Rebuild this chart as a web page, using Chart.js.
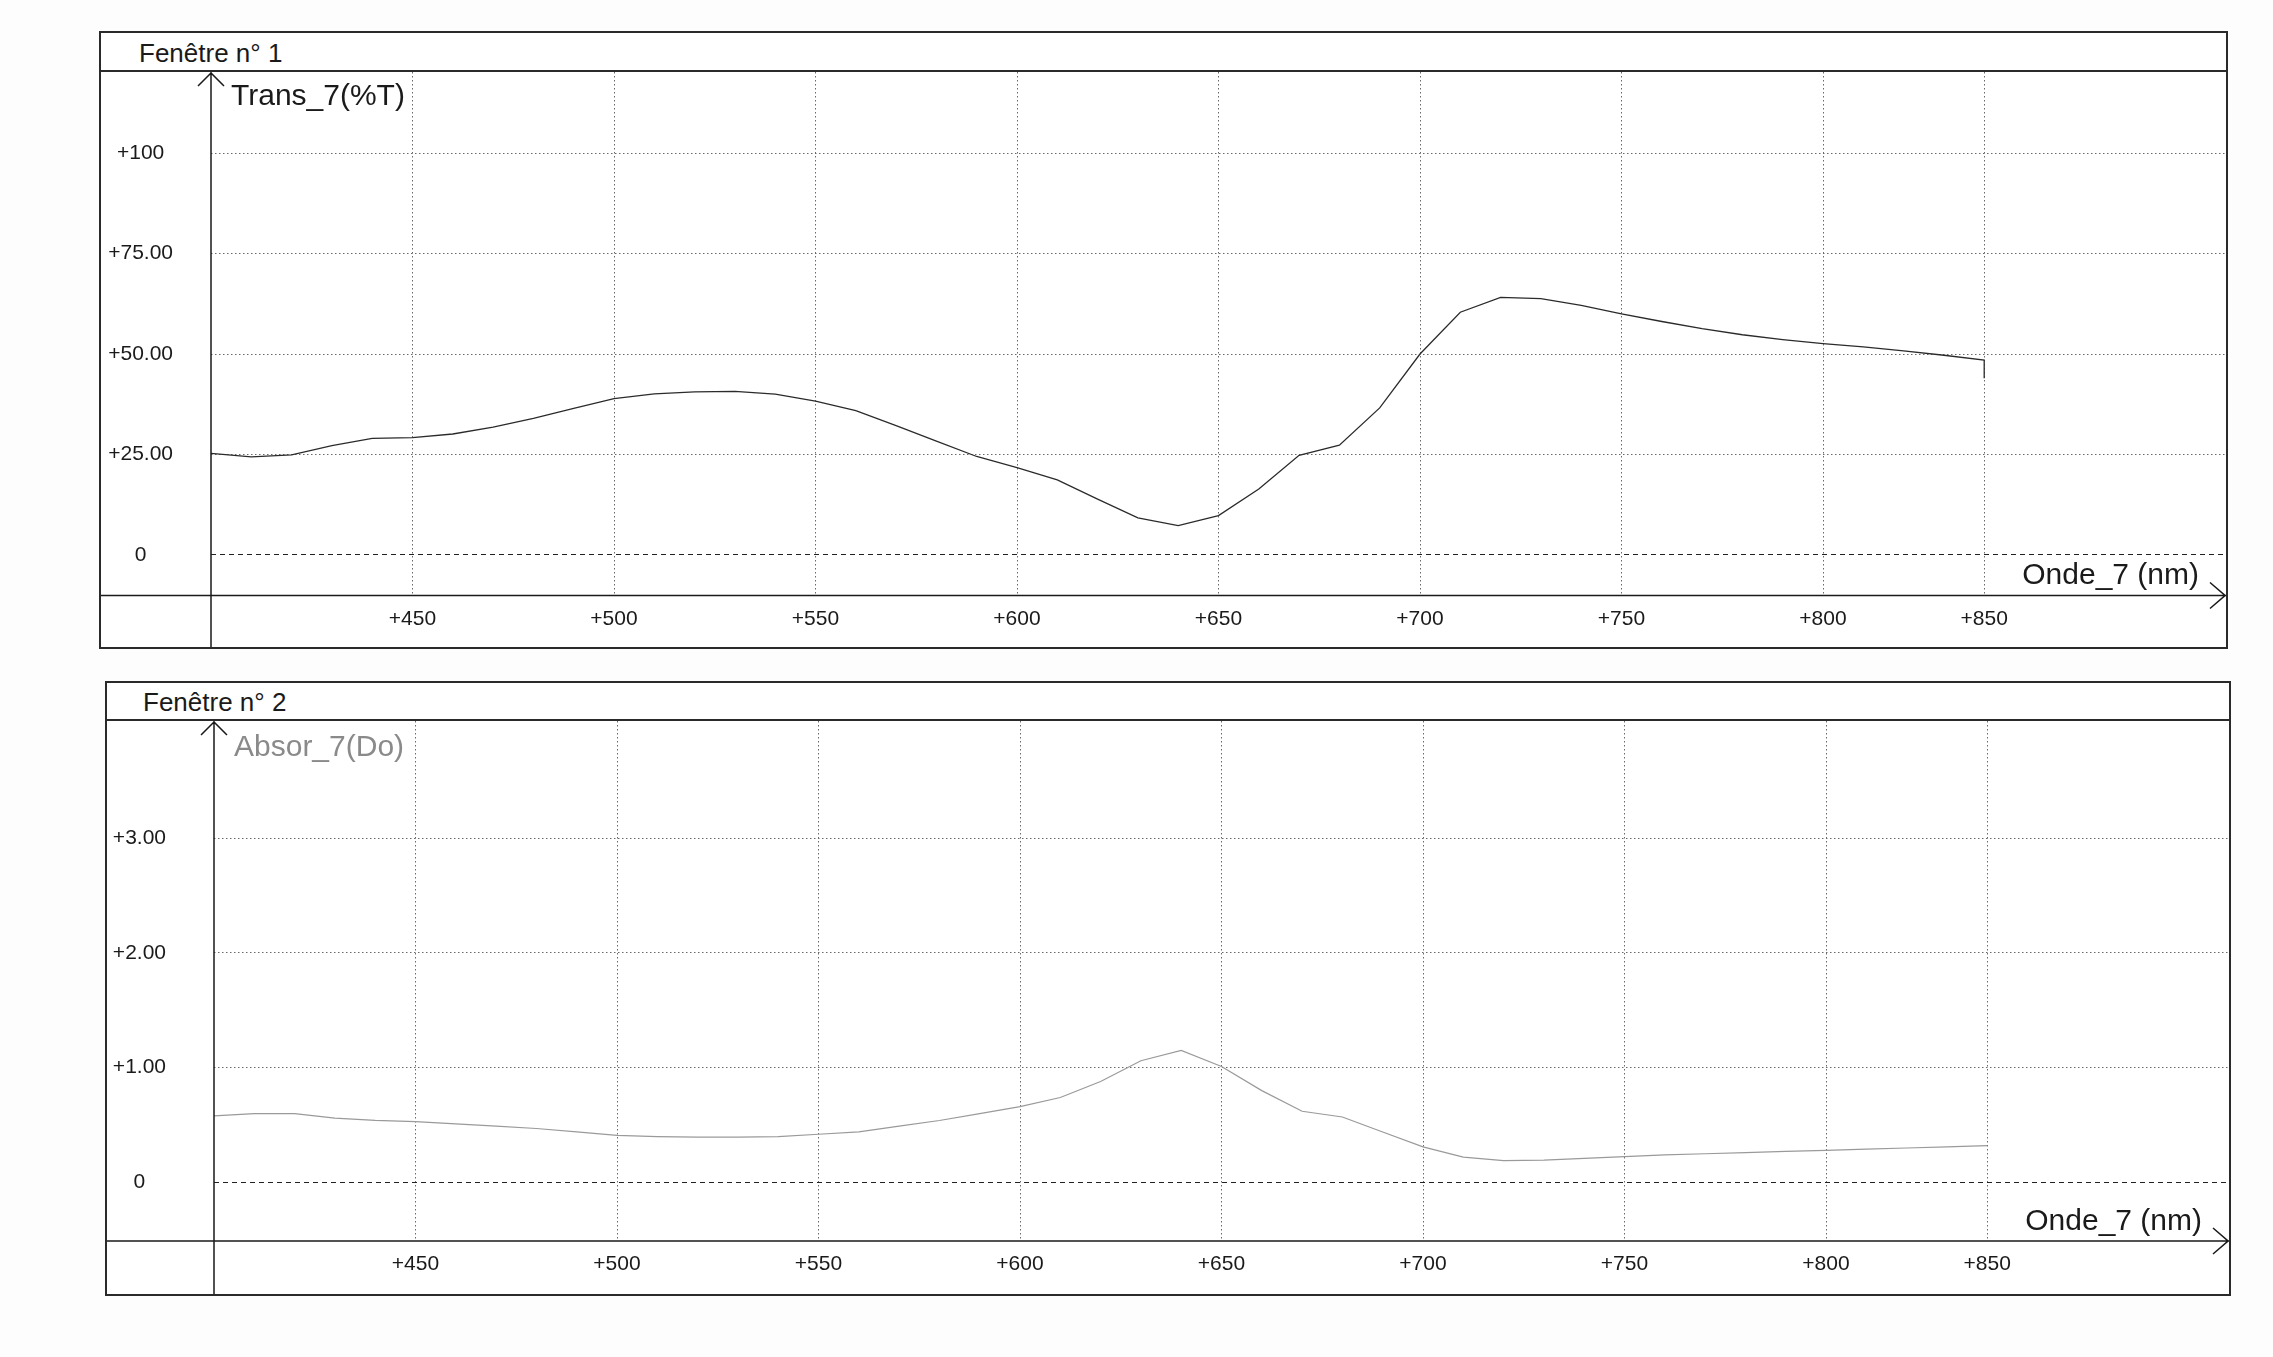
<!DOCTYPE html>
<html lang="fr">
<head>
<meta charset="utf-8">
<title>Fenêtre n° 1 / Fenêtre n° 2</title>
<script src="https://cdn.jsdelivr.net/npm/chart.js@4.4.1/dist/chart.umd.min.js"></script>
<style>
  html, body { margin: 0; padding: 0; background: #fdfdfd; }
  body { width: 2273px; height: 1357px; position: relative; overflow: hidden; font-family: "Liberation Sans", Arial, sans-serif; }
  .panel { position: absolute; box-sizing: border-box; border: 2px solid #2a2a2a; background: #fff; }
  .panel .title { border-bottom: 2px solid #2a2a2a; font-size: 26px; color: #1a1a1a; }
  .panel canvas { display: block; }
  #panel1 { left: 99px; top: 31px; width: 2129px; height: 618px; }
  #panel1 .title { height: 37px; line-height: 40px; padding-left: 38px; }
  #panel2 { left: 105px; top: 681px; width: 2126px; height: 615px; }
  #panel2 .title { height: 36px; line-height: 38px; padding-left: 36px; }
</style>
</head>
<body>

<div class="panel" id="panel1">
  <div class="title">Fenêtre n° 1</div>
  <canvas id="transChart" width="2125" height="575"></canvas>
</div>

<div class="panel" id="panel2">
  <div class="title">Fenêtre n° 2</div>
  <canvas id="absorChart" width="2122" height="573"></canvas>
</div>

<script>
/* ===== DATA ===== */
// wavelength (nm), one reading every 10 nm
const wavelengths = [400, 410, 420, 430, 440, 450, 460, 470, 480, 490,
                     500, 510, 520, 530, 540, 550, 560, 570, 580, 590,
                     600, 610, 620, 630, 640, 650, 660, 670, 680, 690,
                     700, 710, 720, 730, 740, 750, 760, 770, 780, 790,
                     800, 810, 820, 830, 840];

// Trans_7 (%T)
const transmission = [25.3, 24.4, 24.9, 27.2, 29.0, 29.2, 30.1, 31.8, 34.0, 36.5,
                      38.9, 40.1, 40.6, 40.7, 40.0, 38.3, 35.9, 32.2, 28.3, 24.5,
                      21.7, 18.7, 13.9, 9.2, 7.3, 9.8, 16.4, 24.8, 27.3, 36.6,
                      50.0, 60.4, 64.1, 63.8, 62.1, 60.0, 58.1, 56.3, 54.8, 53.6,
                      52.6, 51.8, 50.8, 49.7, 48.5];
// last reading: the trace drops straight down at 840 nm
const transTail = 44;

// Absor_7 (Do)
const absorbance = [0.58, 0.60, 0.60, 0.56, 0.54, 0.53, 0.51, 0.49, 0.47, 0.44,
                    0.41, 0.40, 0.395, 0.395, 0.40, 0.42, 0.44, 0.49, 0.54, 0.60,
                    0.66, 0.74, 0.88, 1.06, 1.15, 1.01, 0.80, 0.62, 0.57, 0.44,
                    0.31, 0.22, 0.19, 0.195, 0.21, 0.225, 0.24, 0.25, 0.26, 0.27,
                    0.28, 0.29, 0.30, 0.31, 0.32];

// x ticks (the printout puts its "+850" mark at the end of the trace)
const xTickValues = [450, 500, 550, 600, 650, 700, 750, 800, 840];
const xTickLabels = ["+450", "+500", "+550", "+600", "+650", "+700", "+750", "+800", "+850"];

const transTickValues = [0, 25, 50, 75, 100];
const transTickLabels = ["0", "+25.00", "+50.00", "+75.00", "+100"];

const absorTickValues = [0, 1, 2, 3];
const absorTickLabels = ["0", "+1.00", "+2.00", "+3.00"];

const FONT = '"Liberation Sans", Arial, sans-serif';

/* ===== AXES WITH ARROWS + AXIS NAMES ===== */
const frameAxes = {
  id: "frameAxes",
  afterDraw(chart, args, o) {
    const { ctx, chartArea: ca, width, height } = chart;
    ctx.save();
    ctx.strokeStyle = "#1a1a1a";
    ctx.lineWidth = 1.5;
    ctx.beginPath();
    ctx.moveTo(0, ca.bottom);
    ctx.lineTo(width, ca.bottom);
    ctx.moveTo(ca.left, 0);
    ctx.lineTo(ca.left, height);
    // arrow on y axis
    ctx.moveTo(ca.left - 13, 14);
    ctx.lineTo(ca.left, 1);
    ctx.lineTo(ca.left + 13, 14);
    // arrow on x axis
    ctx.moveTo(width - 16, ca.bottom - 13);
    ctx.lineTo(width - 1, ca.bottom);
    ctx.lineTo(width - 16, ca.bottom + 13);
    ctx.stroke();

    ctx.font = "30px " + FONT;
    ctx.textBaseline = "middle";
    ctx.textAlign = "left";
    ctx.fillStyle = o.yTitleColor;
    ctx.fillText(o.yTitle, ca.left + 20, o.yTitleY);
    ctx.textAlign = "right";
    ctx.fillStyle = "#1a1a1a";
    ctx.fillText(o.xTitle, width - 27, ca.bottom - o.xTitleUp);
    ctx.restore();
  }
};

/* ===== ONE WINDOW ===== */
function makeWindow(id, points, opt) {
  return new Chart(document.getElementById(id), {
    type: "line",
    data: {
      datasets: [{
        data: points,
        borderColor: opt.lineColor,
        borderWidth: opt.lineWidth,
        pointRadius: 0,
        tension: 0,
        fill: false
      }]
    },
    options: {
      responsive: false,
      animation: false,
      devicePixelRatio: 1,
      layout: { padding: 0 },
      plugins: {
        legend: { display: false },
        tooltip: { enabled: false },
        frameAxes: opt.titles
      },
      scales: {
        x: {
          type: "linear",
          min: 400,
          max: 900,
          afterBuildTicks: s => { s.ticks = xTickValues.map(v => ({ value: v })); },
          afterFit: s => { s.height = opt.xAxisHeight; },
          ticks: {
            callback: (v, i) => xTickLabels[i],
            autoSkip: false,
            maxRotation: 0,
            padding: 11,
            color: "#1a1a1a",
            font: { family: FONT, size: 21 }
          },
          grid: { color: "#6a6a6a", lineWidth: 1, drawTicks: false },
          border: { display: false, dash: [1.5, 2.5] }
        },
        y: {
          type: "linear",
          min: opt.yMin,
          max: opt.yMax,
          afterBuildTicks: s => { s.ticks = opt.yTickValues.map(v => ({ value: v })); },
          afterFit: s => {
            s.width = opt.yAxisWidth;
            s.paddingTop = 0;
            s.paddingBottom = 0;
          },
          ticks: {
            callback: (v, i) => opt.yTickLabels[i],
            crossAlign: "center",
            padding: 0,
            color: "#1a1a1a",
            font: { family: FONT, size: 21 }
          },
          grid: {
            color: c => (c.tick && c.tick.value === 0 ? "#222" : "#6a6a6a"),
            lineWidth: 1,
            drawTicks: true,
            tickLength: opt.yGap,
            tickColor: "rgba(0,0,0,0)"
          },
          border: {
            display: false,
            dash: c => (c.tick && c.tick.value === 0 ? [5, 4] : [1.5, 2.5])
          }
        }
      }
    },
    plugins: [frameAxes]
  });
}

const transPoints = wavelengths.map((x, i) => ({ x: x, y: transmission[i] }))
  .concat([{ x: wavelengths[wavelengths.length - 1], y: transTail }]);
const absorPoints = wavelengths.map((x, i) => ({ x: x, y: absorbance[i] }));

makeWindow("transChart", transPoints, {
  yMin: -10.1, yMax: 120.2,
  yTickValues: transTickValues, yTickLabels: transTickLabels,
  yAxisWidth: 110, yGap: 38, xAxisHeight: 51.5,
  lineColor: "#2b2b2b", lineWidth: 1.3,
  titles: { yTitle: "Trans_7(%T)", yTitleColor: "#1a1a1a", yTitleY: 25, xTitle: "Onde_7 (nm)", xTitleUp: 20 }
});

makeWindow("absorChart", absorPoints, {
  yMin: -0.51, yMax: 4.02,
  yTickValues: absorTickValues, yTickLabels: absorTickLabels,
  yAxisWidth: 107, yGap: 48, xAxisHeight: 53,
  lineColor: "#9a9a9a", lineWidth: 1.2,
  titles: { yTitle: "Absor_7(Do)", yTitleColor: "#8a8a8a", yTitleY: 27, xTitle: "Onde_7 (nm)", xTitleUp: 19 }
});
</script>
</body>
</html>
